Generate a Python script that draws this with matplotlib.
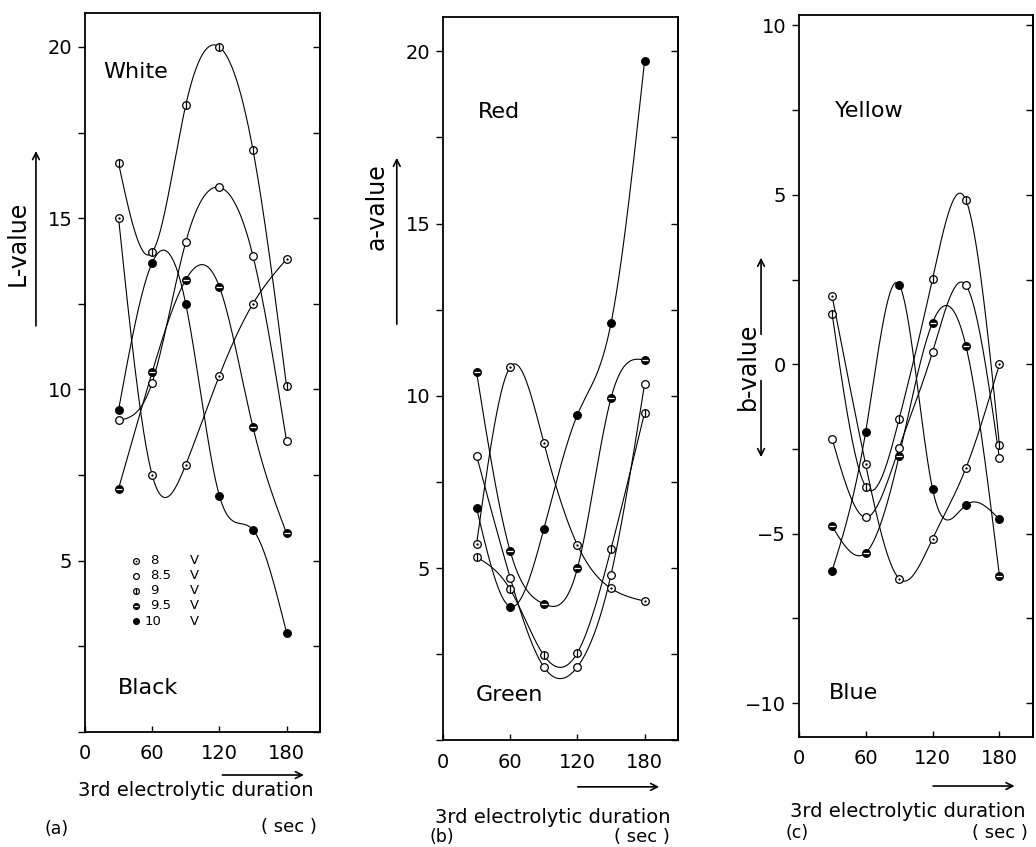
import numpy as np
import matplotlib
matplotlib.use("Agg")
import matplotlib.pyplot as plt
from matplotlib.patches import FancyArrowPatch

# electrolytic duration (sec)
times = [30, 60, 90, 120, 150, 180]
voltages = ["8", "8.5", "9", "9.5", "10"]

# (a) L-value
L_8V = [15.0, 7.5, 7.8, 10.4, 12.5, 13.8]
L_8_5V = [9.1, 10.2, 14.3, 15.9, 13.9, 8.5]
L_9V = [16.6, 14.0, 18.3, 20.0, 17.0, 10.1]
L_9_5V = [7.1, 10.5, 13.2, 13.0, 8.9, 5.8]
L_10V = [9.4, 13.7, 12.5, 6.9, 5.9, 2.9]

# (b) a-value
a_8V = [5.7, 10.84, 8.64, 5.67, 4.41, 4.04]
a_8_5V = [8.26, 4.72, 2.13, 2.13, 4.80, 10.34]
a_9V = [5.32, 4.38, 2.47, 2.54, 5.55, 9.51]
a_9_5V = [10.68, 5.49, 3.96, 4.99, 9.93, 11.04]
a_10V = [6.74, 3.88, 6.13, 9.45, 12.10, 19.72]

# (c) b-value
b_8V = [2.0, -2.96, -6.33, -5.15, -3.06, 0.0]
b_8_5V = [-2.21, -4.52, -2.47, 0.36, 2.33, -2.78]
b_9V = [1.47, -3.61, -1.62, 2.52, 4.84, -2.39]
b_9_5V = [-4.79, -5.57, -2.71, 1.23, 0.53, -6.25]
b_10V = [-6.09, -2.0, 2.35, -3.68, -4.15, -4.58]

plt.rcParams['font.family'] = 'DejaVu Sans'


def spline(x, y, n=300):
    # natural cubic spline, only used to draw the smooth curve through points
    x = np.asarray(x, float)
    y = np.asarray(y, float)
    m = len(x)
    h = np.diff(x)
    A = np.zeros((m, m))
    r = np.zeros(m)
    A[0, 0] = A[-1, -1] = 1
    for i in range(1, m - 1):
        A[i, i - 1] = h[i - 1]
        A[i, i] = 2 * (h[i - 1] + h[i])
        A[i, i + 1] = h[i]
        r[i] = 3 * ((y[i + 1] - y[i]) / h[i] - (y[i] - y[i - 1]) / h[i - 1])
    c = np.linalg.solve(A, r)
    b = (y[1:] - y[:-1]) / h - h * (2 * c[:-1] + c[1:]) / 3
    d = (c[1:] - c[:-1]) / (3 * h)
    xs = np.linspace(x[0], x[-1], n)
    k = np.clip(np.searchsorted(x, xs) - 1, 0, m - 2)
    dx = xs - x[k]
    return xs, y[k] + b[k] * dx + c[k] * dx ** 2 + d[k] * dx ** 3


def marker(ax, x, y, kind, ms=5.5, **kw):
    if kind == 4:
        ax.plot(x, y, 'o', ms=ms, mfc='k', mec='k', mew=0.9, zorder=4, **kw)
        return
    face = 'k' if kind == 3 else 'white'
    ax.plot(x, y, 'o', ms=ms, mfc=face, mec='k', mew=0.9, zorder=4, **kw)
    if kind == 0:
        ax.plot(x, y, 'o', ms=ms * 0.3, mfc='k', mec='k', mew=0, zorder=5, **kw)
    elif kind == 2:
        ax.plot(x, y, '|', ms=ms, mec='k', mew=0.9, zorder=5, **kw)
    elif kind == 3:
        ax.plot(x, y, '_', ms=ms * 0.8, mec='white', mew=0.9, zorder=5, **kw)


def panel(ax, series, ylim, major, minor, labels):
    for k, vals in enumerate(series):
        xs, ys = spline(times, vals)
        ax.plot(xs, ys, color='k', lw=0.8, zorder=3)
        marker(ax, times, vals, k)
    ax.set_xticks([0, 60, 120, 180])
    ax.set_yticks(major)
    ax.set_yticks(minor, minor=True)
    ax.set_xlim(0, 210)
    ax.set_ylim(*ylim)
    ax.tick_params(axis='y', which='both', direction='out', length=5, width=1, labelsize=14, pad=4)
    ax.tick_params(axis='y', which='minor', labelleft=False)
    ax.tick_params(axis='x', direction='in', length=4, width=1, labelsize=14, pad=9)
    sec = ax.secondary_yaxis('right')
    sec.set_yticks(sorted(list(major) + list(minor)))
    sec.tick_params(direction='in', length=5, width=1, labelright=False)
    sec.spines['right'].set_linewidth(1.3)
    for s in ax.spines.values():
        s.set_linewidth(1.3)
    for txt, (tx, ty) in labels:
        ax.text(tx, ty, txt, transform=ax.transAxes, fontsize=16, ha='left', va='center')


fig = plt.figure(figsize=(10.36, 8.47), dpi=100)
ax_a = fig.add_axes([0.082, 0.136, 0.227, 0.849])
ax_b = fig.add_axes([0.4276, 0.126, 0.227, 0.854])
ax_c = fig.add_axes([0.771, 0.130, 0.226, 0.852])

panel(ax_a, [L_8V, L_8_5V, L_9V, L_9_5V, L_10V], (0, 21), [5, 10, 15, 20],
      [0, 2.5, 7.5, 12.5, 17.5],
      [("White", (0.077, 0.918)), ("Black", (0.14, 0.061))])
panel(ax_b, [a_8V, a_8_5V, a_9V, a_9_5V, a_10V], (0, 21), [5, 10, 15, 20],
      [0, 2.5, 7.5, 12.5, 17.5],
      [("Red", (0.149, 0.869)), ("Green", (0.14, 0.062))])
panel(ax_c, [b_8V, b_8_5V, b_9V, b_9_5V, b_10V], (-11, 10.3), [-10, -5, 0, 5, 10],
      [-7.5, -2.5, 2.5, 7.5],
      [("Yellow", (0.154, 0.868)), ("Blue", (0.128, 0.061))])
ax_c.set_yticklabels(['\u221210', '\u22125', '0', '5', '10'])

# legend in panel (a)
rows = [0.238, 0.217, 0.196, 0.175, 0.154]
for k, (v, ry) in enumerate(zip(voltages, rows)):
    marker(ax_a, [0.217], [ry], k, ms=4.2, transform=ax_a.transAxes, clip_on=False)
    ax_a.text(0.277 if v != "10" else 0.255, ry, v, transform=ax_a.transAxes,
              fontsize=9.5, ha='left', va='center')
    ax_a.text(0.447, ry, "V", transform=ax_a.transAxes, fontsize=9.5, ha='left', va='center')

arrow = dict(arrowstyle='->', lw=1.2, color='k', mutation_scale=12, transform=fig.transFigure)

# y labels with arrows
fig.text(0.0174, 0.713, "L-value", rotation=90, fontsize=17, ha='center', va='center')
fig.patches.append(FancyArrowPatch((0.0347, 0.612), (0.0347, 0.825), **arrow))
fig.text(0.364, 0.756, "a-value", rotation=90, fontsize=17, ha='center', va='center')
fig.patches.append(FancyArrowPatch((0.383, 0.614), (0.383, 0.817), **arrow))
fig.text(0.722, 0.568, "b-value", rotation=90, fontsize=17, ha='center', va='center')
fig.patches.append(FancyArrowPatch((0.7346, 0.602), (0.7346, 0.699), **arrow))
fig.patches.append(FancyArrowPatch((0.7346, 0.554), (0.7346, 0.457), **arrow))

# x arrows and labels
for x0, x1, y in [(0.212, 0.296, 0.085), (0.555, 0.639, 0.071), (0.898, 0.982, 0.072)]:
    fig.patches.append(FancyArrowPatch((x0, y), (x1, y), **arrow))

xlab = "3rd electrolytic duration"
for lx, ly, tag, tx, ty, sx, sy in [(0.075, 0.067, "(a)", 0.043, 0.021, 0.306, 0.024),
                                    (0.420, 0.035, "(b)", 0.415, 0.012, 0.647, 0.012),
                                    (0.7625, 0.042, "(c)", 0.758, 0.017, 0.992, 0.017)]:
    fig.text(lx, ly, xlab, fontsize=14, ha='left', va='center')
    fig.text(tx, ty, tag, fontsize=12.5, ha='left', va='center')
    fig.text(sx, sy, "( sec )", fontsize=13, ha='right', va='center')

fig.savefig("out.png", dpi=100)
